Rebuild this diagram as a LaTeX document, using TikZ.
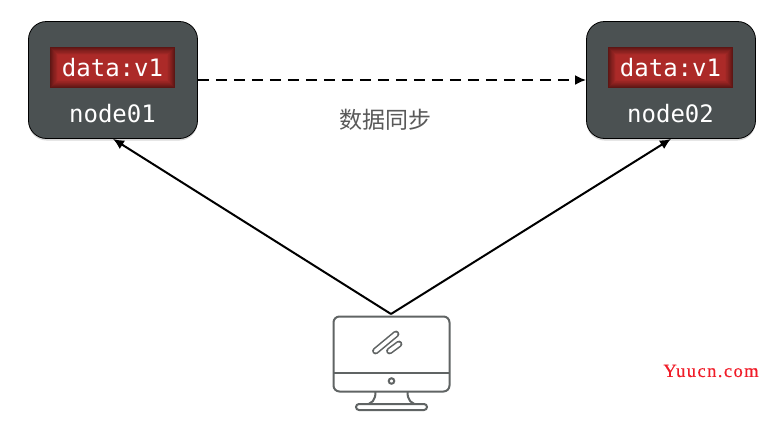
\documentclass[tikz,border=0pt]{standalone}
\usepackage{fontspec}
\setmonofont{DejaVu Sans Mono}
\newfontfamily\cjkfont{Noto Sans CJK SC}
\newfontfamily\markfont[LetterSpace=7.5,FakeBold=0.4]{Liberation Serif}
\usetikzlibrary{arrows.meta, shadows}
\definecolor{nodegray}{HTML}{4B5152}
\definecolor{datared}{HTML}{AC2A28}
\definecolor{datadark}{HTML}{5E1614}
\definecolor{icongray}{HTML}{606464}
\definecolor{labelgray}{HTML}{595959}
\definecolor{markred}{HTML}{F01C28}

\begin{document}
\begin{tikzpicture}[x=1pt, y=-1pt,
        nodebox/.style={draw=black, line width=0.8pt, fill=nodegray, rounded corners=18pt, minimum width=169pt, minimum height=117pt, drop shadow={shadow xshift=0pt, shadow yshift=-2pt, opacity=0.3}},
        databox/.style={fill=datadark, minimum width=125pt, minimum height=41pt, inner sep=0pt, text=white, font=\fontsize{24}{24}\selectfont\ttfamily,
            path picture={\foreach \i in {1,...,14} {
                \pgfmathsetmacro{\mixval}{\i*100/14}
                \pgfmathsetmacro{\inset}{\i*0.55}
                \fill[datared!\mixval!datadark] ([xshift=\inset pt, yshift=-\inset pt]path picture bounding box.north west) rectangle ([xshift=-\inset pt, yshift=\inset pt]path picture bounding box.south east);
            }}},
        namelabel/.style={text=white, inner sep=0pt, font=\fontsize{24}{24}\selectfont\ttfamily},
        link/.style={line width=2pt, -{Latex[length=11pt, width=10pt]}},
        icon/.style={draw=icongray, line width=2pt}
    ]
      \useasboundingbox (0,0) rectangle (772,426);

      % Left node
      \node[nodebox] (node01) at (113,80) {};
      \node[databox] (data01) at (112.5,67.5) {data:v1};
      \node[namelabel] (name01) at (112.5,114) {node01};

      % Right node
      \node[nodebox] (node02) at (671,80) {};
      \node[databox] (data02) at (670.5,67.5) {data:v1};
      \node[namelabel] (name02) at (670.5,114) {node02};

      % Monitor
      \node[icon, rounded corners=6pt, minimum width=116pt, minimum height=75pt, inner sep=0pt] (screen) at (391.5,354) {};
      \coordinate (client) at (391,314);
      \draw[icon] (333.5,372.5) -- (449.5,372.5);
      \node[icon, circle, minimum size=5.5pt, inner sep=0pt] (led) at (391.5,381) {};
      \draw[icon] (375.5,392) .. controls (375.5,400) and (372,404.5) .. (364,404.5);
      \draw[icon] (407.5,392) .. controls (407.5,400) and (411,404.5) .. (419,404.5);
      \node[icon, rounded corners=3pt, minimum width=71pt, minimum height=6pt, inner sep=0pt, fill=white] (base) at (391.5,407) {};
      \draw[icongray, line width=1.6pt, double=white, double distance=3.6pt, line cap=round] (375.5,351) -- (396,334);
      \draw[icongray, line width=1.6pt, double=white, double distance=3.6pt, line cap=round] (389.5,351) -- (399,344);

      % Connectors
      \draw[link, dashed, dash pattern=on 11pt off 7pt] (node01) -- (node02);
      \draw[link] (client) -- (node01.south);
      \draw[link] (client) -- (node02.south);

      % Texts
      \node[text=labelgray, font=\fontsize{23}{23}\selectfont\cjkfont] (synclabel) at (385.5,120) {数据同步};
      \node[text=markred, font=\fontsize{18.6}{18.6}\selectfont\markfont] (mark) at (711,371) {Yuucn.com};
    \end{tikzpicture}
\end{document}
